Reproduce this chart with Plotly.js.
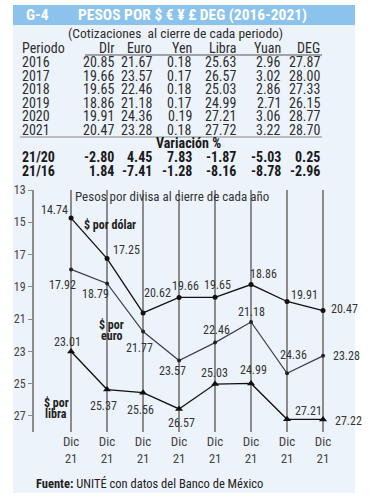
<!DOCTYPE html>
<html>
<head>
<meta charset="utf-8">
<script src="https://cdn.plot.ly/plotly-3.0.1.min.js"></script>
<style>html,body{margin:0;padding:0;background:#fff;}#chart{width:370px;height:500px;}</style>
</head>
<body>
<div id="chart"></div>
<script>
// ---------- DATA ----------
const tableYears = ["2016", "2017", "2018", "2019", "2020", "2021"];
const tableHeaders = ["Dlr", "Euro", "Yen", "Libra", "Yuan", "DEG"];
const dlr   = [20.85, 19.66, 19.65, 18.86, 19.91, 20.47];
const euro  = [21.67, 23.57, 22.46, 21.18, 24.36, 23.28];
const yen   = [0.18, 0.17, 0.18, 0.17, 0.19, 0.18];
const libra = [25.63, 26.57, 25.03, 24.99, 27.21, 27.72];
const yuan  = [2.96, 3.02, 2.86, 2.71, 3.06, 3.22];
const deg   = [27.87, 28.00, 27.33, 26.15, 28.77, 28.70];
const varLabels = ["21/20", "21/16"];
const var2120 = [-2.80, 4.45, 7.83, -1.87, -5.03, 0.25];
const var2116 = [1.84, -7.41, -1.28, -8.16, -8.78, -2.96];

const xLabels = ["Dic<br>21", "Dic<br>21", "Dic<br>21", "Dic<br>21", "Dic<br>21", "Dic<br>21", "Dic<br>21", "Dic<br>21"];
const pesoDolar = [14.74, 17.25, 20.62, 19.66, 19.65, 18.86, 19.91, 20.47];
const pesoEuro  = [17.92, 18.79, 21.77, 23.57, 22.46, 21.18, 24.36, 23.28];
const pesoLibra = [23.01, 25.37, 25.56, 26.57, 25.03, 24.99, 27.21, 27.22];
const yTicks = [13, 15, 17, 19, 21, 23, 25, 27];

// ---------- LAYOUT HELPERS ----------
const W = 370, H = 500, L = 34, R = 345, T = 190, B = 432;
const px = x => (x - L) / (R - L);
const py = y => (B - y) / (B - T);
const FN = "Liberation Sans Narrow, Roboto Condensed, DejaVu Sans Condensed, sans-serif";
const TXT = "#2e2e2e";
const xIdx = pesoDolar.map((_, i) => i);

const ann = [];
function txt(x, y, s, o) {
  o = o || {};
  ann.push({xref: "paper", yref: "paper", x: px(x), y: py(y), text: s, showarrow: false,
    xanchor: o.anchor || "left", yanchor: "middle", borderpad: 0,
    font: {family: FN, size: o.size || 14, color: o.color || TXT}});
}

// Title bar
txt(25, 15, "<b>G-4</b>", {size: 15.5, color: "#ffffff"});
txt(77, 15, "<b>PESOS POR $ € ¥ £ DEG (2016-2021)</b>", {size: 15.5, color: "#ffffff"});
txt(175, 33, "(Cotizaciones  al cierre de cada periodo)", {anchor: "center", size: 13.5});

// Table
const colRight = [115, 153, 193, 237, 282, 321];
const cols = [dlr, euro, yen, libra, yuan, deg];
const rowY = [62, 75.5, 89, 102.5, 116, 129.5];
txt(21, 48, "Periodo", {size: 14});
tableHeaders.forEach((h, j) => txt(colRight[j], 48, h, {anchor: "right", size: 14}));
tableYears.forEach((yr, i) => {
  txt(21, rowY[i], yr, {size: 14});
  cols.forEach((c, j) => txt(colRight[j], rowY[i], c[i].toFixed(2), {anchor: "right", size: 14}));
});
txt(188, 143, "<b>Variación %</b>", {anchor: "center", size: 14, color: "#1a1a1a"});
[var2120, var2116].forEach((row, i) => {
  const yy = [157, 171][i];
  txt(21, yy, "<b>" + varLabels[i] + "</b>", {size: 14, color: "#1a1a1a"});
  row.forEach((v, j) => txt(colRight[j], yy, "<b>" + v.toFixed(2) + "</b>", {anchor: "right", size: 14, color: "#1a1a1a"}));
});

// Chart texts
txt(172, 196, "Pesos por divisa al cierre de cada año", {anchor: "center", size: 13, color: "#333"});
txt(110, 225, "<b>$ por dólar</b>", {anchor: "center", size: 12, color: "#222"});
txt(111, 325, "<b>$ por</b>", {anchor: "center", size: 12, color: "#222"});
txt(111, 336, "<b>euro</b>", {anchor: "center", size: 12, color: "#222"});
txt(56, 403, "<b>$ por</b>", {anchor: "center", size: 12, color: "#222"});
txt(56, 414, "<b>libra</b>", {anchor: "center", size: 12, color: "#222"});
txt(35, 483, "<b>Fuente:</b> UNITÉ con datos del Banco de México", {size: 12.5, color: "#222"});

// Data labels (offsets in px: dx, dy down)
const offDolar = [[-17, -8], [19, -9], [14, -20], [6, -11], [2, -12], [12, -11], [17, -6], [21, -2]];
const offEuro  = [[-9, 16], [-12, 11], [-4, 17], [-7, 10], [1, -13], [0, -10], [6, -18], [23, 0]];
const offLibra = [[-4, -9], [-4, 16], [-3, 17], [2, 14], [-1, -11], [2, -13], [21, -8], [25, 2]];
[[pesoDolar, offDolar], [pesoEuro, offEuro], [pesoLibra, offLibra]].forEach(([vals, off]) => {
  vals.forEach((v, i) => ann.push({x: xIdx[i], y: v, xref: "x", yref: "y", text: v.toFixed(2),
    showarrow: false, xanchor: "center", yanchor: "middle", xshift: off[i][0], yshift: -off[i][1],
    borderpad: 0, font: {family: FN, size: 12, color: "#333"}}));
});

const shapes = [
  {type: "rect", xref: "paper", yref: "paper", x0: px(13), x1: px(355), y0: py(493), y1: py(25),
    fillcolor: "#edf3fa", line: {width: 0}, layer: "below"},
  {type: "rect", xref: "paper", yref: "paper", x0: px(13), x1: px(355), y0: py(25), y1: py(5),
    fillcolor: "#8cc3ec", line: {width: 0}, layer: "below"},
  {type: "line", xref: "paper", yref: "paper", x0: px(85), x1: px(322), y0: py(55), y1: py(55),
    line: {color: "#555", width: 1}},
  {type: "line", xref: "paper", yref: "paper", x0: px(20), x1: px(322), y0: py(137), y1: py(137),
    line: {color: "#888", width: 1}}
];

const traces = [
  {x: xIdx, y: pesoDolar, mode: "lines+markers", line: {color: "#111", width: 1.3},
    marker: {symbol: "circle", size: 5, color: "#111"}, hoverinfo: "skip"},
  {x: xIdx, y: pesoEuro, mode: "lines+markers", line: {color: "#3b3b52", width: 1.2},
    marker: {symbol: "circle", size: 4, color: "#222"}, hoverinfo: "skip"},
  {x: xIdx, y: pesoLibra, mode: "lines+markers", line: {color: "#111", width: 1.3},
    marker: {symbol: "triangle-up", size: 7, color: "#111"}, hoverinfo: "skip"}
];

const layout = {
  width: W, height: H, margin: {l: L, r: W - R, t: T, b: H - B, pad: 0},
  paper_bgcolor: "#ffffff", plot_bgcolor: "rgba(0,0,0,0)", showlegend: false,
  xaxis: {range: [-1.03, 7.61], tickvals: xIdx, ticktext: xLabels, showgrid: true,
    gridcolor: "#8c8c8c", gridwidth: 2, zeroline: false, showline: false, ticks: "",
    tickfont: {family: FN, size: 13, color: "#444"}, fixedrange: true},
  yaxis: {range: [28, 13], tickvals: yTicks, showgrid: false, zeroline: false, showline: true,
    linecolor: "#8c8c8c", linewidth: 2, ticks: "outside", ticklen: 4, tickcolor: "#8c8c8c",
    tickfont: {family: FN, size: 12, color: "#444"}, fixedrange: true},
  shapes: shapes, annotations: ann
};
Plotly.newPlot("chart", traces, layout, {displayModeBar: false, staticPlot: true});
</script>
</body>
</html>
